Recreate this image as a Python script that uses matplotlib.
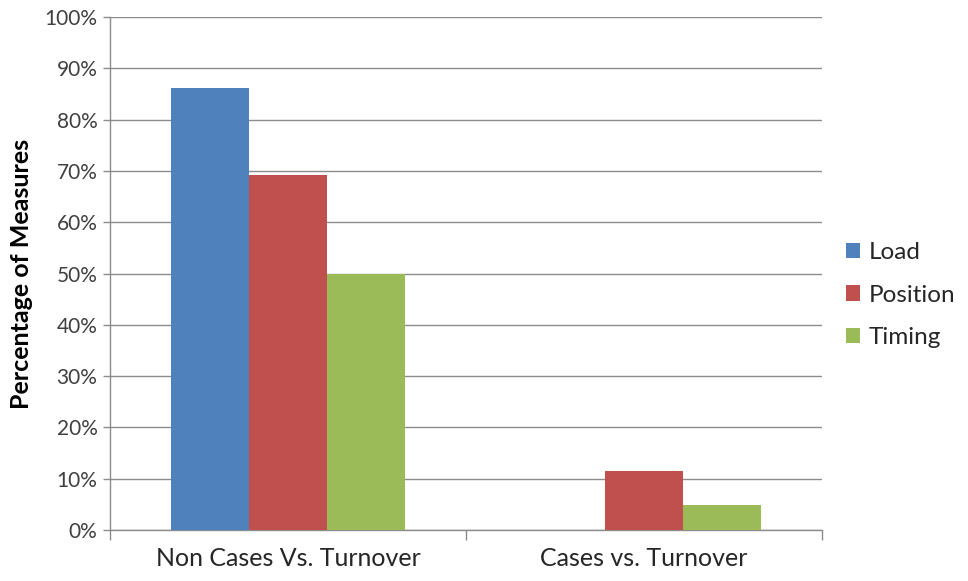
import numpy as np
import matplotlib.pyplot as plt
from matplotlib.patches import Patch
from matplotlib.ticker import PercentFormatter

plt.rcParams['font.family'] = ['Lato', 'DejaVu Sans']

categories = ['Non Cases Vs. Turnover', 'Cases vs. Turnover']
series = ['Load', 'Position', 'Timing']
load = [86.2, 0.0]
position = [69.2, 11.5]
timing = [50.0, 4.8]
colors = ['#4F81BD', '#C0504D', '#9BBB59']

fig = plt.figure(figsize=(9.68, 5.81), dpi=100)
ax = fig.add_axes([110 / 968, 51 / 581, 712 / 968, 513 / 581])

x = np.arange(len(categories))
w = 0.22
for i, (vals, c) in enumerate(zip([load, position, timing], colors)):
    ax.bar(x + (i - 1) * w, vals, width=w, color=c, zorder=3)

ax.set_xlim(-0.5, 1.5)
ax.set_ylim(0, 100)
ax.set_yticks(np.arange(0, 101, 10))
ax.yaxis.set_major_formatter(PercentFormatter(decimals=0))
ax.grid(axis='y', color='#8c8c8c', linewidth=1, zorder=0)

ax.set_xticks(x)
ax.set_xticklabels(categories, fontsize=18, color='#262626')
ax.set_xticks([-0.5, 0.5, 1.5], minor=True)
ax.tick_params(axis='x', which='major', length=0, pad=12)
ax.tick_params(axis='x', which='minor', length=7, color='#8c8c8c', width=1)
ax.tick_params(axis='y', length=5, color='#8c8c8c', width=1, labelsize=15,
               labelcolor='#404040', pad=4)

for s in ['top', 'right']:
    ax.spines[s].set_visible(False)
for s in ['left', 'bottom']:
    ax.spines[s].set_color('#8c8c8c')
    ax.spines[s].set_linewidth(1)

ax.set_ylabel('Percentage of Measures', fontsize=18, fontweight='bold',
              color='#000000', labelpad=8)

handles = [Patch(facecolor=c, label=s) for s, c in zip(series, colors)]
fig.legend(handles=handles, loc='center left', bbox_to_anchor=(824 / 968, 286 / 581),
           frameon=False, fontsize=17.5, handlelength=0.6, handleheight=0.6,
           handletextpad=0.35, labelspacing=0.88, labelcolor='#262626')

fig.savefig('out.png', dpi=100)
